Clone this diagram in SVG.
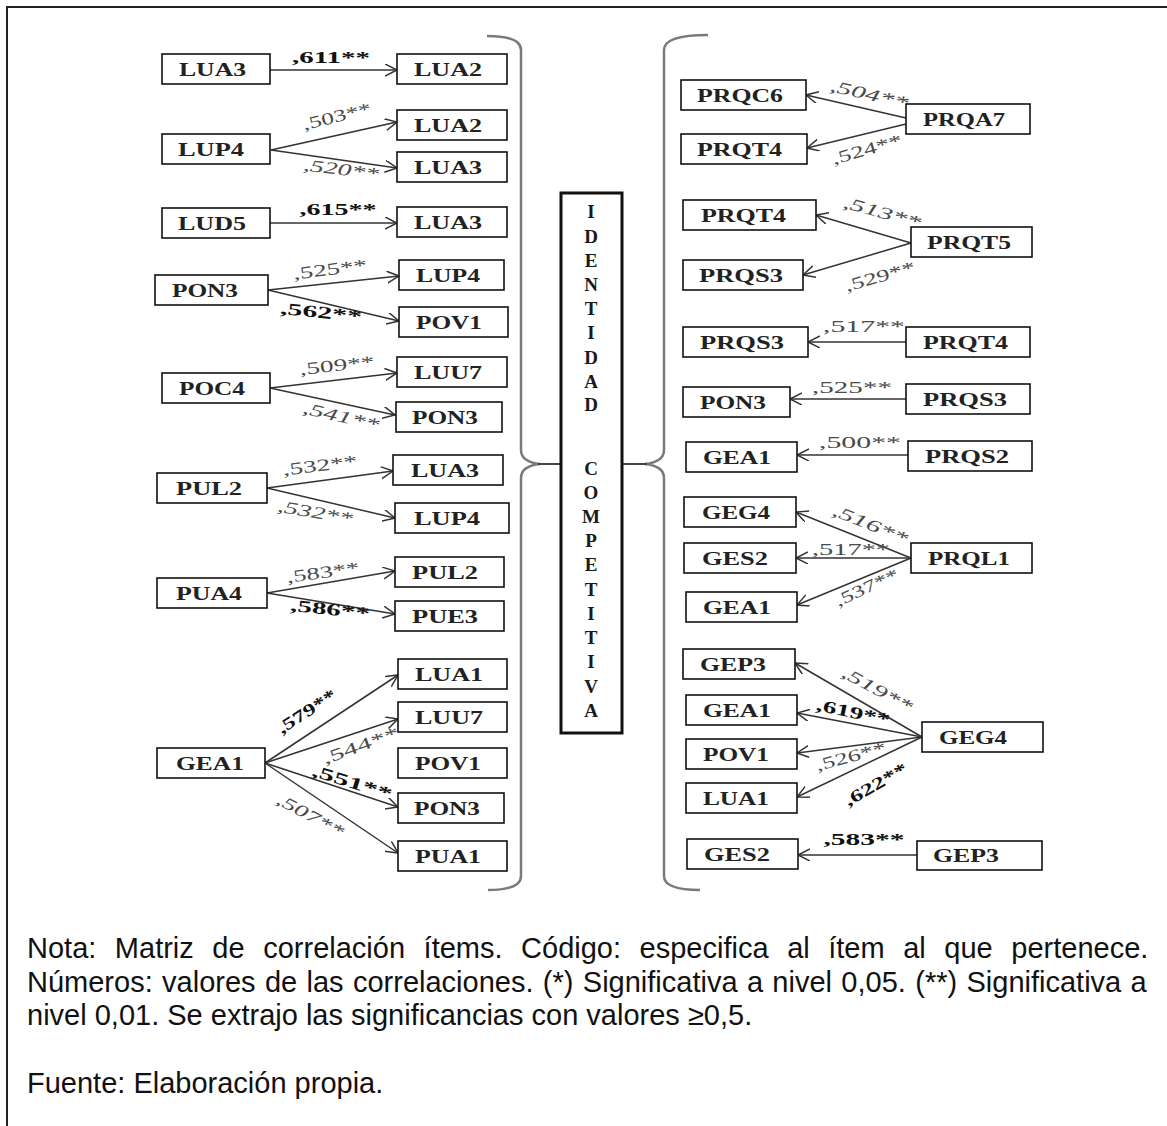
<svg xmlns="http://www.w3.org/2000/svg" width="1167" height="1126" viewBox="0 0 1167 1126">
<style>
.bx{fill:#fff;stroke:#111;stroke-width:1.6}
.nt{font-family:"Liberation Serif","Times New Roman",serif;font-weight:bold;font-size:18px;fill:#222}
.cn{stroke:#333;stroke-width:1.5;fill:none;marker-end:url(#ah)}
.lb{font-family:"Liberation Serif","Times New Roman",serif;font-size:17px;fill:#4a4a4a;text-anchor:middle}
.lbb{font-family:"Liberation Serif","Times New Roman",serif;font-size:17px;font-weight:bold;fill:#111;text-anchor:middle}
.it{font-style:italic}
.br{stroke:#7a7a7a;stroke-width:2.5;fill:none}
.vt{font-family:"Liberation Serif","Times New Roman",serif;font-weight:bold;font-size:19px;fill:#1a1a1a;text-anchor:middle}
.note{font-family:"Liberation Sans",Arial,sans-serif;font-size:29px;fill:#111}
</style>
<defs>
<marker id="ah" markerWidth="14" markerHeight="14" refX="12" refY="6" orient="auto" markerUnits="userSpaceOnUse">
<path d="M0,0 L12,6 L0,12" fill="none" stroke="#333" stroke-width="1.5"/>
</marker>
</defs>
<rect width="1167" height="1126" fill="#fff"/>
<path d="M7,1126 V7 H1167" fill="none" stroke="#222" stroke-width="2"/>

<g id="braces">
<path class="br" d="M487,36 Q521,36 521,50 L521,450 Q521,462 540,464 M540,464 Q521,466 521,478 L521,876 Q521,890 488,890"/>
<line x1="538" y1="464" x2="561" y2="464" stroke="#444" stroke-width="2"/>
<path class="br" d="M708,35 Q664,35 664,50 L664,450 Q664,462 645,464 M645,464 Q664,466 664,478 L664,876 Q664,890 700,890"/>
<line x1="622" y1="464" x2="647" y2="464" stroke="#444" stroke-width="2"/>
</g>

<g id="identidad">
<rect x="561" y="193" width="61" height="540" fill="#fff" stroke="#111" stroke-width="3"/>
<text class="vt" x="591" y="218">I</text>
<text class="vt" x="591" y="243">D</text>
<text class="vt" x="591" y="267">E</text>
<text class="vt" x="591" y="291">N</text>
<text class="vt" x="591" y="315">T</text>
<text class="vt" x="591" y="339">I</text>
<text class="vt" x="591" y="364">D</text>
<text class="vt" x="591" y="388">A</text>
<text class="vt" x="591" y="411">D</text>
<text class="vt" x="591" y="475">C</text>
<text class="vt" x="591" y="499">O</text>
<text class="vt" x="591" y="523">M</text>
<text class="vt" x="591" y="547">P</text>
<text class="vt" x="591" y="571">E</text>
<text class="vt" x="591" y="596">T</text>
<text class="vt" x="591" y="620">I</text>
<text class="vt" x="591" y="644">T</text>
<text class="vt" x="591" y="668">I</text>
<text class="vt" x="591" y="693">V</text>
<text class="vt" x="591" y="717">A</text>
</g>

<g id="connectors">
<line class="cn" x1="270" y1="70" x2="397" y2="70"/>
<line class="cn" x1="271" y1="150" x2="397" y2="122"/>
<line class="cn" x1="271" y1="150" x2="397" y2="168"/>
<line class="cn" x1="270" y1="223" x2="397" y2="223"/>
<line class="cn" x1="268" y1="290" x2="399" y2="276"/>
<line class="cn" x1="268" y1="290" x2="399" y2="321"/>
<line class="cn" x1="270" y1="388" x2="397" y2="373"/>
<line class="cn" x1="270" y1="388" x2="395" y2="415"/>
<line class="cn" x1="267" y1="488" x2="393" y2="471"/>
<line class="cn" x1="267" y1="488" x2="395" y2="518"/>
<line class="cn" x1="267" y1="593" x2="395" y2="571"/>
<line class="cn" x1="267" y1="593" x2="395" y2="614"/>
<line class="cn" x1="265" y1="763" x2="398" y2="675"/>
<line class="cn" x1="265" y1="763" x2="398" y2="719"/>
<line class="cn" x1="265" y1="763" x2="398" y2="807"/>
<line class="cn" x1="265" y1="763" x2="398" y2="853"/>
<line class="cn" x1="906" y1="118" x2="806" y2="95"/>
<line class="cn" x1="906" y1="124" x2="807" y2="148"/>
<line class="cn" x1="911" y1="243" x2="816" y2="215"/>
<line class="cn" x1="911" y1="243" x2="803" y2="275"/>
<line class="cn" x1="906" y1="342" x2="808" y2="342"/>
<line class="cn" x1="906" y1="399" x2="790" y2="399"/>
<line class="cn" x1="908" y1="455" x2="797" y2="455"/>
<line class="cn" x1="911" y1="558" x2="796" y2="512"/>
<line class="cn" x1="911" y1="558" x2="796" y2="558"/>
<line class="cn" x1="911" y1="558" x2="797" y2="605"/>
<line class="cn" x1="922" y1="737" x2="795" y2="663"/>
<line class="cn" x1="922" y1="737" x2="797" y2="713"/>
<line class="cn" x1="922" y1="737" x2="797" y2="753"/>
<line class="cn" x1="922" y1="737" x2="797" y2="797"/>
<line class="cn" x1="917" y1="855" x2="798" y2="855"/>
</g>

<g id="labels">
<text class="lbb" transform="translate(331,58)" y="5" textLength="78" lengthAdjust="spacingAndGlyphs">,611**</text>
<text class="lb" transform="translate(337,117) rotate(-14)" y="5" textLength="70" lengthAdjust="spacingAndGlyphs">,503**</text>
<text class="lb it" transform="translate(341,170) rotate(7)" y="5" textLength="76" lengthAdjust="spacingAndGlyphs">,520**</text>
<text class="lbb" transform="translate(338,210)" y="5" textLength="77" lengthAdjust="spacingAndGlyphs">,615**</text>
<text class="lb" transform="translate(330,270) rotate(-7)" y="5" textLength="74" lengthAdjust="spacingAndGlyphs">,525**</text>
<text class="lbb" transform="translate(321,313) rotate(6)" y="5" textLength="82" lengthAdjust="spacingAndGlyphs">,562**</text>
<text class="lb" transform="translate(337,366) rotate(-6)" y="5" textLength="75" lengthAdjust="spacingAndGlyphs">,509**</text>
<text class="lb it" transform="translate(341,417) rotate(13)" y="5" textLength="78" lengthAdjust="spacingAndGlyphs">,541**</text>
<text class="lb" transform="translate(320,466) rotate(-7)" y="5" textLength="75" lengthAdjust="spacingAndGlyphs">,532**</text>
<text class="lb it" transform="translate(315,513) rotate(10)" y="5" textLength="76" lengthAdjust="spacingAndGlyphs">,532**</text>
<text class="lb" transform="translate(323,573) rotate(-8)" y="5" textLength="73" lengthAdjust="spacingAndGlyphs">,583**</text>
<text class="lbb" transform="translate(330,610) rotate(6)" y="5" textLength="80" lengthAdjust="spacingAndGlyphs">,586**</text>
<text class="lbb" transform="translate(307,712) rotate(-33)" y="5" textLength="67" lengthAdjust="spacingAndGlyphs">,579**</text>
<text class="lb" transform="translate(361,746) rotate(-20)" y="5" textLength="80" lengthAdjust="spacingAndGlyphs">,544**</text>
<text class="lbb" transform="translate(352,783) rotate(17)" y="5" textLength="83" lengthAdjust="spacingAndGlyphs">,551**</text>
<text class="lb it" transform="translate(310,816) rotate(28)" y="5" textLength="74" lengthAdjust="spacingAndGlyphs">,507**</text>
<text class="lb it" transform="translate(869,95) rotate(13)" y="5" textLength="80" lengthAdjust="spacingAndGlyphs">,504**</text>
<text class="lb" transform="translate(867,150) rotate(-16)" y="5" textLength="72" lengthAdjust="spacingAndGlyphs">,524**</text>
<text class="lb it" transform="translate(882,213) rotate(15)" y="5" textLength="80" lengthAdjust="spacingAndGlyphs">,513**</text>
<text class="lb" transform="translate(880,277) rotate(-16)" y="5" textLength="72" lengthAdjust="spacingAndGlyphs">,529**</text>
<text class="lb" transform="translate(864,327)" y="5" textLength="82" lengthAdjust="spacingAndGlyphs">,517**</text>
<text class="lb" transform="translate(852,388)" y="5" textLength="80" lengthAdjust="spacingAndGlyphs">,525**</text>
<text class="lb" transform="translate(860,443)" y="5" textLength="82" lengthAdjust="spacingAndGlyphs">,500**</text>
<text class="lb it" transform="translate(870,525) rotate(22)" y="5" textLength="80" lengthAdjust="spacingAndGlyphs">,516**</text>
<text class="lb" transform="translate(851,550)" y="5" textLength="78" lengthAdjust="spacingAndGlyphs">,517**</text>
<text class="lb" transform="translate(867,588) rotate(-25)" y="5" textLength="68" lengthAdjust="spacingAndGlyphs">,537**</text>
<text class="lb it" transform="translate(877,690) rotate(28)" y="5" textLength="78" lengthAdjust="spacingAndGlyphs">,519**</text>
<text class="lbb" transform="translate(853,713) rotate(12)" y="5" textLength="75" lengthAdjust="spacingAndGlyphs">,619**</text>
<text class="lb" transform="translate(851,757) rotate(-15)" y="5" textLength="72" lengthAdjust="spacingAndGlyphs">,526**</text>
<text class="lbb" transform="translate(876,785) rotate(-30)" y="5" textLength="70" lengthAdjust="spacingAndGlyphs">,622**</text>
<text class="lbb" transform="translate(864,840)" y="5" textLength="81" lengthAdjust="spacingAndGlyphs">,583**</text>
</g>

<g id="n-L-LUA3a"><rect class="bx" x="162" y="54" width="108" height="30"/><text class="nt" x="179" y="76" textLength="67" lengthAdjust="spacingAndGlyphs">LUA3</text></g>
<g id="n-L-LUA2a"><rect class="bx" x="397" y="54" width="110" height="30"/><text class="nt" x="414" y="76" textLength="68" lengthAdjust="spacingAndGlyphs">LUA2</text></g>
<g id="n-L-LUP4a"><rect class="bx" x="162" y="134" width="108" height="30"/><text class="nt" x="178" y="156" textLength="66" lengthAdjust="spacingAndGlyphs">LUP4</text></g>
<g id="n-L-LUA2b"><rect class="bx" x="397" y="110" width="110" height="30"/><text class="nt" x="414" y="132" textLength="68" lengthAdjust="spacingAndGlyphs">LUA2</text></g>
<g id="n-L-LUA3b"><rect class="bx" x="397" y="152" width="110" height="30"/><text class="nt" x="414" y="174" textLength="68" lengthAdjust="spacingAndGlyphs">LUA3</text></g>
<g id="n-L-LUD5"><rect class="bx" x="162" y="208" width="108" height="30"/><text class="nt" x="178" y="230" textLength="68" lengthAdjust="spacingAndGlyphs">LUD5</text></g>
<g id="n-L-LUA3c"><rect class="bx" x="397" y="207" width="110" height="30"/><text class="nt" x="414" y="229" textLength="68" lengthAdjust="spacingAndGlyphs">LUA3</text></g>
<g id="n-L-PON3a"><rect class="bx" x="155" y="275" width="113" height="30"/><text class="nt" x="172" y="297" textLength="66" lengthAdjust="spacingAndGlyphs">PON3</text></g>
<g id="n-L-LUP4b"><rect class="bx" x="399" y="260" width="105" height="30"/><text class="nt" x="416" y="282" textLength="64" lengthAdjust="spacingAndGlyphs">LUP4</text></g>
<g id="n-L-POV1a"><rect class="bx" x="399" y="307" width="109" height="30"/><text class="nt" x="416" y="329" textLength="66" lengthAdjust="spacingAndGlyphs">POV1</text></g>
<g id="n-L-POC4"><rect class="bx" x="162" y="373" width="108" height="30"/><text class="nt" x="179" y="395" textLength="66" lengthAdjust="spacingAndGlyphs">POC4</text></g>
<g id="n-L-LUU7a"><rect class="bx" x="397" y="357" width="110" height="30"/><text class="nt" x="414" y="379" textLength="68" lengthAdjust="spacingAndGlyphs">LUU7</text></g>
<g id="n-L-PON3b"><rect class="bx" x="396" y="402" width="106" height="30"/><text class="nt" x="412" y="424" textLength="66" lengthAdjust="spacingAndGlyphs">PON3</text></g>
<g id="n-L-PUL2a"><rect class="bx" x="157" y="473" width="110" height="30"/><text class="nt" x="176" y="495" textLength="66" lengthAdjust="spacingAndGlyphs">PUL2</text></g>
<g id="n-L-LUA3d"><rect class="bx" x="393" y="455" width="110" height="30"/><text class="nt" x="411" y="477" textLength="68" lengthAdjust="spacingAndGlyphs">LUA3</text></g>
<g id="n-L-LUP4c"><rect class="bx" x="395" y="503" width="114" height="30"/><text class="nt" x="414" y="525" textLength="66" lengthAdjust="spacingAndGlyphs">LUP4</text></g>
<g id="n-L-PUA4"><rect class="bx" x="157" y="578" width="110" height="30"/><text class="nt" x="176" y="600" textLength="66" lengthAdjust="spacingAndGlyphs">PUA4</text></g>
<g id="n-L-PUL2b"><rect class="bx" x="395" y="557" width="109" height="30"/><text class="nt" x="412" y="579" textLength="66" lengthAdjust="spacingAndGlyphs">PUL2</text></g>
<g id="n-L-PUE3"><rect class="bx" x="395" y="601" width="109" height="30"/><text class="nt" x="412" y="623" textLength="66" lengthAdjust="spacingAndGlyphs">PUE3</text></g>
<g id="n-L-GEA1"><rect class="bx" x="157" y="748" width="108" height="30"/><text class="nt" x="176" y="770" textLength="68" lengthAdjust="spacingAndGlyphs">GEA1</text></g>
<g id="n-L-LUA1"><rect class="bx" x="398" y="659" width="109" height="30"/><text class="nt" x="415" y="681" textLength="68" lengthAdjust="spacingAndGlyphs">LUA1</text></g>
<g id="n-L-LUU7b"><rect class="bx" x="398" y="702" width="109" height="30"/><text class="nt" x="415" y="724" textLength="68" lengthAdjust="spacingAndGlyphs">LUU7</text></g>
<g id="n-L-POV1b"><rect class="bx" x="398" y="748" width="109" height="30"/><text class="nt" x="415" y="770" textLength="66" lengthAdjust="spacingAndGlyphs">POV1</text></g>
<g id="n-L-PON3c"><rect class="bx" x="398" y="793" width="106" height="30"/><text class="nt" x="414" y="815" textLength="66" lengthAdjust="spacingAndGlyphs">PON3</text></g>
<g id="n-L-PUA1"><rect class="bx" x="398" y="841" width="109" height="30"/><text class="nt" x="415" y="863" textLength="66" lengthAdjust="spacingAndGlyphs">PUA1</text></g>

<g id="n-R-PRQC6"><rect class="bx" x="681" y="80" width="125" height="30"/><text class="nt" x="697" y="102" textLength="86" lengthAdjust="spacingAndGlyphs">PRQC6</text></g>
<g id="n-R-PRQT4a"><rect class="bx" x="681" y="134" width="126" height="30"/><text class="nt" x="697" y="156" textLength="85" lengthAdjust="spacingAndGlyphs">PRQT4</text></g>
<g id="n-R-PRQA7"><rect class="bx" x="906" y="104" width="124" height="30"/><text class="nt" x="923" y="126" textLength="82" lengthAdjust="spacingAndGlyphs">PRQA7</text></g>
<g id="n-R-PRQT4b"><rect class="bx" x="683" y="200" width="133" height="30"/><text class="nt" x="701" y="222" textLength="85" lengthAdjust="spacingAndGlyphs">PRQT4</text></g>
<g id="n-R-PRQS3a"><rect class="bx" x="683" y="260" width="120" height="30"/><text class="nt" x="699" y="282" textLength="84" lengthAdjust="spacingAndGlyphs">PRQS3</text></g>
<g id="n-R-PRQT5"><rect class="bx" x="911" y="227" width="121" height="30"/><text class="nt" x="927" y="249" textLength="84" lengthAdjust="spacingAndGlyphs">PRQT5</text></g>
<g id="n-R-PRQS3b"><rect class="bx" x="683" y="327" width="125" height="30"/><text class="nt" x="700" y="349" textLength="84" lengthAdjust="spacingAndGlyphs">PRQS3</text></g>
<g id="n-R-PRQT4c"><rect class="bx" x="906" y="327" width="124" height="30"/><text class="nt" x="923" y="349" textLength="85" lengthAdjust="spacingAndGlyphs">PRQT4</text></g>
<g id="n-R-PON3"><rect class="bx" x="683" y="387" width="107" height="30"/><text class="nt" x="700" y="409" textLength="66" lengthAdjust="spacingAndGlyphs">PON3</text></g>
<g id="n-R-PRQS3c"><rect class="bx" x="906" y="384" width="124" height="30"/><text class="nt" x="923" y="406" textLength="84" lengthAdjust="spacingAndGlyphs">PRQS3</text></g>
<g id="n-R-GEA1a"><rect class="bx" x="686" y="442" width="111" height="30"/><text class="nt" x="703" y="464" textLength="68" lengthAdjust="spacingAndGlyphs">GEA1</text></g>
<g id="n-R-PRQS2"><rect class="bx" x="908" y="441" width="124" height="30"/><text class="nt" x="925" y="463" textLength="84" lengthAdjust="spacingAndGlyphs">PRQS2</text></g>
<g id="n-R-GEG4a"><rect class="bx" x="684" y="497" width="112" height="30"/><text class="nt" x="702" y="519" textLength="68" lengthAdjust="spacingAndGlyphs">GEG4</text></g>
<g id="n-R-GES2a"><rect class="bx" x="684" y="543" width="112" height="30"/><text class="nt" x="702" y="565" textLength="66" lengthAdjust="spacingAndGlyphs">GES2</text></g>
<g id="n-R-GEA1b"><rect class="bx" x="686" y="592" width="111" height="30"/><text class="nt" x="703" y="614" textLength="68" lengthAdjust="spacingAndGlyphs">GEA1</text></g>
<g id="n-R-PRQL1"><rect class="bx" x="911" y="543" width="121" height="30"/><text class="nt" x="928" y="565" textLength="82" lengthAdjust="spacingAndGlyphs">PRQL1</text></g>
<g id="n-R-GEP3a"><rect class="bx" x="683" y="649" width="112" height="30"/><text class="nt" x="700" y="671" textLength="66" lengthAdjust="spacingAndGlyphs">GEP3</text></g>
<g id="n-R-GEA1c"><rect class="bx" x="686" y="695" width="111" height="30"/><text class="nt" x="703" y="717" textLength="68" lengthAdjust="spacingAndGlyphs">GEA1</text></g>
<g id="n-R-POV1"><rect class="bx" x="686" y="739" width="111" height="30"/><text class="nt" x="703" y="761" textLength="66" lengthAdjust="spacingAndGlyphs">POV1</text></g>
<g id="n-R-LUA1"><rect class="bx" x="686" y="783" width="111" height="30"/><text class="nt" x="703" y="805" textLength="66" lengthAdjust="spacingAndGlyphs">LUA1</text></g>
<g id="n-R-GEG4b"><rect class="bx" x="922" y="722" width="121" height="30"/><text class="nt" x="939" y="744" textLength="68" lengthAdjust="spacingAndGlyphs">GEG4</text></g>
<g id="n-R-GES2b"><rect class="bx" x="687" y="839" width="111" height="30"/><text class="nt" x="704" y="861" textLength="66" lengthAdjust="spacingAndGlyphs">GES2</text></g>
<g id="n-R-GEP3b"><rect class="bx" x="917" y="841" width="125" height="29"/><text class="nt" x="933" y="862" textLength="66" lengthAdjust="spacingAndGlyphs">GEP3</text></g>

<g id="note">
<text class="note" x="27" y="958" word-spacing="10.5">Nota: Matriz de correlación ítems. Código: especifica al ítem al que pertenece.</text>
<text class="note" x="27" y="992" word-spacing="1.3">Números: valores de las correlaciones. (*) Significativa a nivel 0,05. (**) Significativa a</text>
<text class="note" x="27" y="1025">nivel 0,01. Se extrajo las significancias con valores ≥0,5.</text>
<text class="note" x="27" y="1093">Fuente: Elaboración propia.</text>
</g>
</svg>
